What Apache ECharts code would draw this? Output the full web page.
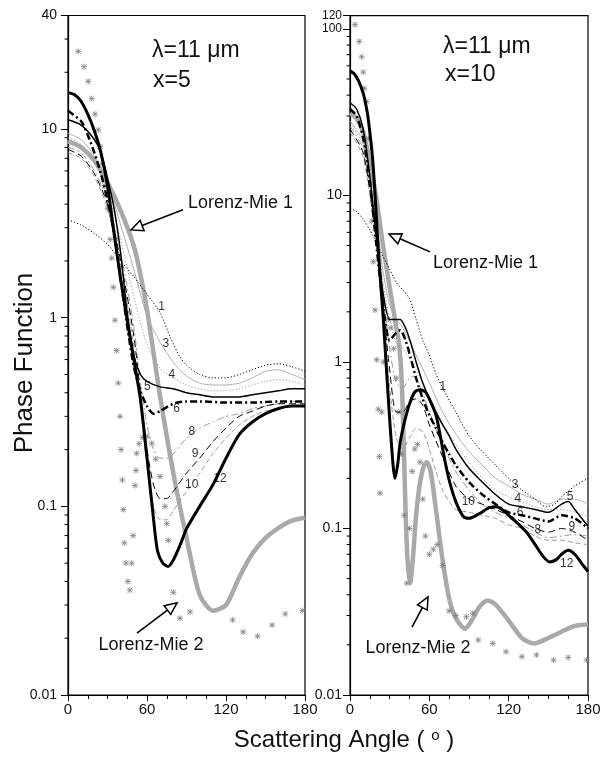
<!DOCTYPE html>
<html><head><meta charset="utf-8">
<script src="https://cdn.jsdelivr.net/npm/echarts@6.0.0/dist/echarts.min.js"></script>
<style>html,body{margin:0;padding:0;background:#fff}#c{width:612px;height:760px}</style>
</head><body><div id="c"></div><script>
const FONT = '"Liberation Sans", Arial, Helvetica, sans-serif';

// ---- axes ----
const xTickLabels = [0, 60, 120, 180];
const leftYMax = 40;
const rightYMax = 120;
const yMin = 0.01;

// ---- LEFT PANEL (x=5): [angle, phase function] ----
const L_c1 = [[0,3.3],[10,3.1],[20,2.8],[30,2.45],[40,2.0],[50,1.65],[60,1.33],[70,1.06],[78,0.78],[85,0.62],[90,0.56],[100,0.5],[110,0.48],[120,0.48],[130,0.5],[140,0.53],[150,0.56],[160,0.57],[170,0.55],[180,0.52]];
const L_c3 = [[0,9.5],[10,8.8],[20,7.2],[30,5.2],[40,3.1],[50,1.8],[60,1.02],[70,0.74],[80,0.58],[90,0.49],[100,0.45],[110,0.44],[120,0.44],[130,0.45],[140,0.48],[150,0.52],[160,0.53],[170,0.5],[180,0.47]];
const L_c4 = [[0,9.0],[10,8.3],[20,6.7],[30,4.7],[40,2.6],[50,1.3],[60,0.72],[70,0.54],[80,0.48],[90,0.44],[100,0.42],[110,0.41],[120,0.41],[130,0.42],[140,0.44],[150,0.46],[160,0.47],[170,0.46],[180,0.44]];
const L_c5 = [[0,11.2],[10,10.5],[20,8.8],[25,7.5],[30,5.5],[35,3.8],[40,2.2],[45,1.05],[50,0.63],[55,0.5],[60,0.46],[70,0.43],[80,0.42],[90,0.4],[100,0.39],[110,0.38],[120,0.38],[130,0.38],[140,0.39],[150,0.4],[160,0.41],[170,0.42],[180,0.42]];
const L_c6 = [[0,12.5],[10,11],[15,9.3],[20,7.5],[25,5.8],[30,4.2],[35,2.8],[40,1.6],[45,0.9],[50,0.55],[55,0.41],[60,0.34],[65,0.31],[70,0.32],[80,0.35],[90,0.36],[100,0.36],[120,0.355],[140,0.355],[160,0.36],[180,0.36]];
const L_c8 = [[0,8.0],[10,7.5],[20,6],[30,4.2],[40,2.2],[50,0.9],[55,0.45],[60,0.27],[65,0.2],[70,0.18],[75,0.18],[80,0.19],[90,0.23],[100,0.26],[110,0.28],[120,0.3],[130,0.31],[140,0.33],[150,0.34],[160,0.35],[170,0.36],[180,0.36]];
const L_c9 = [[0,7.8],[10,7.2],[20,5.8],[30,4],[40,2],[50,0.8],[55,0.4],[60,0.2],[65,0.13],[70,0.11],[75,0.11],[80,0.12],[90,0.15],[100,0.18],[110,0.22],[120,0.26],[130,0.3],[140,0.32],[150,0.34],[160,0.35],[170,0.35],[180,0.35]];
const L_c10 = [[0,7.5],[10,7],[20,5.6],[30,3.8],[40,1.9],[50,0.7],[55,0.33],[60,0.17],[65,0.1],[70,0.085],[75,0.085],[80,0.095],[90,0.12],[100,0.15],[110,0.19],[120,0.23],[130,0.27],[140,0.3],[150,0.32],[160,0.33],[170,0.34],[180,0.34]];
const L_c12 = [[0,15.6],[5,15.2],[10,14],[15,12],[20,9.8],[25,7.5],[30,5],[35,2.8],[40,1.6],[45,0.97],[50,0.6],[55,0.37],[60,0.18],[65,0.085],[68,0.058],[72,0.05],[76,0.048],[80,0.052],[85,0.062],[90,0.076],[100,0.1],[110,0.13],[120,0.18],[130,0.24],[140,0.28],[150,0.31],[160,0.33],[170,0.34],[180,0.34]];
const L_mie1 = [[0,8.6],[10,8.0],[20,6.8],[30,5.2],[40,3.7],[50,2.4],[55,1.7],[60,1.1],[65,0.65],[70,0.38],[80,0.15],[90,0.068],[100,0.034],[110,0.028],[120,0.03],[130,0.042],[140,0.056],[150,0.068],[160,0.077],[170,0.084],[180,0.087]];
const L_mie2 = [[7.8,25.8],[12.2,21.4],[15.4,17.9],[18,14.5],[20.5,12],[23,9.9],[24.3,8.1],[26,6.5],[28,5],[30,3.8],[32,2.6],[33.2,2.07],[34.4,1.45],[35.7,0.97],[37,0.67],[38.2,0.45],[39.5,0.3],[40.3,0.2],[41.3,0.138],[42,0.096],[42.8,0.064],[44,0.05],[45.5,0.04],[47,0.036],[48.3,0.05],[49.5,0.07],[50.9,0.129],[51.6,0.155],[52.2,0.191],[54,0.215],[56.7,0.232],[60,0.235],[63.6,0.216],[66.6,0.178],[69.9,0.144],[73.7,0.1],[75,0.081],[76.2,0.066],[80,0.035],[85,0.0255],[92.7,0.0276],[125,0.025],[133,0.0216],[144,0.0205],[155,0.0235],[165,0.0269],[178,0.028]];

// ---- RIGHT PANEL (x=10) ----
const R_c1 = [[0,8.3],[5,8],[10,7.2],[15,6.2],[20,5.2],[25,4.3],[30,3.6],[35,3.0],[40,2.7],[45,2.4],[50,1.8],[55,1.35],[60,1.1],[65,0.85],[70,0.7],[80,0.5],[90,0.36],[100,0.29],[110,0.24],[120,0.2],[130,0.17],[140,0.15],[148,0.135],[155,0.14],[160,0.155],[170,0.18],[180,0.2]];
const R_c3 = [[0,28],[10,21],[20,7],[25,3.5],[30,2.2],[35,1.8],[40,1.6],[50,1.1],[60,0.75],[70,0.5],[80,0.37],[90,0.29],[100,0.24],[110,0.2],[120,0.18],[130,0.16],[140,0.15],[150,0.14],[160,0.15],[170,0.15],[180,0.14]];
const R_c4 = [[0,27],[10,20],[20,6.5],[25,3],[30,1.8],[35,1.3],[40,1.2],[45,1.05],[50,0.9],[60,0.62],[70,0.43],[80,0.32],[90,0.25],[100,0.2],[110,0.17],[120,0.155],[130,0.145],[140,0.135],[150,0.13],[160,0.13],[170,0.125],[180,0.118]];
const R_c5 = [[0,36],[5,33],[10,25],[15,13],[20,5.5],[25,2.6],[30,1.8],[35,1.8],[38,1.8],[42,1.6],[46,1.3],[50,1.0],[55,0.75],[60,0.6],[65,0.5],[70,0.42],[75,0.36],[80,0.3],[90,0.23],[100,0.19],[110,0.16],[120,0.14],[130,0.135],[140,0.13],[150,0.125],[160,0.14],[165,0.145],[170,0.13],[180,0.103]];
const R_c6 = [[0,33],[5,30],[10,22],[15,12],[20,5],[25,2.2],[30,1.35],[35,1.5],[38,1.55],[42,1.35],[46,1.05],[50,0.8],[55,0.6],[60,0.48],[65,0.4],[70,0.33],[75,0.28],[80,0.24],[90,0.19],[100,0.16],[110,0.14],[120,0.125],[130,0.12],[140,0.115],[150,0.11],[160,0.12],[170,0.115],[180,0.1]];
const R_c8 = [[0,26],[10,19],[20,6],[25,2.5],[30,1.2],[35,0.75],[40,0.7],[45,0.8],[48,0.82],[52,0.75],[60,0.5],[70,0.32],[80,0.22],[90,0.17],[100,0.14],[110,0.125],[120,0.115],[130,0.105],[140,0.095],[150,0.088],[160,0.09],[170,0.092],[180,0.09]];
const R_c9 = [[0,25],[10,18],[20,5.5],[25,2.2],[30,0.9],[35,0.5],[40,0.5],[45,0.58],[50,0.6],[55,0.55],[60,0.42],[70,0.27],[80,0.18],[90,0.15],[100,0.14],[110,0.13],[120,0.12],[130,0.11],[140,0.1],[150,0.095],[160,0.1],[170,0.095],[180,0.085]];
const R_c10 = [[0,24],[10,17],[20,5],[25,2],[30,0.7],[35,0.35],[40,0.3],[45,0.35],[50,0.4],[55,0.38],[60,0.3],[65,0.22],[70,0.17],[75,0.145],[80,0.13],[90,0.125],[100,0.12],[110,0.115],[120,0.105],[130,0.1],[140,0.09],[150,0.085],[160,0.085],[170,0.082],[180,0.08]];
const R_c12 = [[0,56],[3,54],[6.3,49],[10,41],[12.6,33],[14,28],[17,17],[19,10],[21.4,4.7],[25,1.9],[28,0.8],[31,0.35],[34,0.2],[36,0.24],[38,0.33],[41.6,0.45],[45,0.56],[49,0.66],[53,0.68],[57,0.66],[60,0.6],[65,0.48],[68,0.37],[72,0.25],[75.6,0.187],[80,0.145],[85.7,0.118],[90,0.115],[98,0.123],[105,0.133],[111,0.135],[116,0.128],[121,0.118],[128,0.105],[134,0.094],[140,0.08],[146,0.068],[151,0.063],[156,0.065],[160,0.07],[165,0.074],[170,0.07],[175,0.062],[180,0.055]];
const R_mie1 = [[0,31],[5,29],[10,24],[15,16],[20,9.5],[25,5],[30,2.8],[34,1.8],[37,1.3],[39,0.8],[40.5,0.35],[42,0.13],[43.5,0.065],[45.5,0.047],[47.5,0.065],[50,0.12],[53,0.19],[56,0.24],[58,0.25],[61,0.22],[65,0.13],[70,0.065],[75,0.038],[80,0.029],[87,0.025],[92,0.028],[98,0.034],[104,0.037],[110,0.035],[120,0.028],[130,0.022],[139,0.0204],[150,0.022],[160,0.024],[170,0.026],[180,0.0265]];
const R_mie2 = [[3.8,106],[7,84],[8.8,68],[10,55],[10.8,44],[12.6,36.6],[14,22],[15.5,12],[16.5,7],[17.6,4.0],[18.9,2.05],[20.2,1.03],[21.4,0.52],[22.2,0.27],[22.7,0.163],[24,0.5],[25.2,1.0],[27,1.6],[29,1.8],[31,1.6],[33,1.2],[35,0.8],[37,0.5],[39,0.28],[41,0.12],[43,0.047],[45,0.1],[47,0.22],[49,0.3],[51,0.32],[53,0.25],[55,0.15],[57,0.09],[60,0.07],[63,0.075],[66,0.08],[70,0.06],[75,0.032],[80,0.03],[88,0.0295],[93,0.031],[97,0.0214],[108,0.0204],[118,0.0182],[130,0.017],[141,0.0174],[154,0.0162],[165,0.0168],[179,0.0162]];

// ---- curve number labels [angle, value, text] ----
const L_labels = [[71,1.15,'1'],[74.4,0.73,'3'],[78.8,0.5,'4'],[60.2,0.43,'5'],[82.5,0.33,'6'],[94,0.249,'8'],[96.5,0.19,'9'],[94,0.13,'10'],[115.4,0.141,'12']];
const R_labels = [[70.3,0.71,'1'],[124.8,0.182,'3'],[127,0.152,'4'],[128.6,0.124,'6'],[142,0.099,'8'],[167.7,0.103,'9'],[166.4,0.155,'5'],[163.9,0.0618,'12'],[89.5,0.145,'10']];

// ---- annotations: [tail, tip] in data coords, text anchor ----
const annotations = [
  {grid:0, text:'Lorenz-Mie 1', at:[91.2,4.06], align:'left', tail:[87.3,3.73], tip:[47.8,2.92]},
  {grid:0, text:'Lorenz-Mie 2', at:[63,0.0184], align:'center', tail:[52.4,0.0213], tip:[82.8,0.0308]},
  {grid:1, text:'Lorenz-Mie 1', at:[62.8,3.94], align:'left', tail:[60.5,4.58], tip:[29.5,5.87]},
  {grid:1, text:'Lorenz-Mie 2', at:[51.4,0.0191], align:'center', tail:[46.9,0.0256], tip:[59,0.0388]}
];

const fmt = v => String(+(+v).toPrecision(3));

function xAxis(gi) {
  return {
    type:'value', gridIndex:gi, min:0, max:180, interval:60,
    axisLine:{show:true, onZero:false, lineStyle:{color:'#000', width:1.2}},
    axisTick:{show:true, inside:false, length:6, lineStyle:{color:'#000', width:1}},
    minorTick:{show:true, splitNumber:4, length:4, lineStyle:{color:'#000', width:1}},
    splitLine:{show:false},
    axisLabel:{show:true, margin:7, fontSize:15, color:'#111', fontFamily:FONT,
      formatter: v => xTickLabels.includes(v) ? String(v) : ''}
  };
}
function yAxis(gi, max, margin) {
  return {
    type:'log', logBase:10, gridIndex:gi, min:yMin, max:max,
    axisLine:{show:true, onZero:false, lineStyle:{color:'#000', width:1.2}},
    axisTick:{show:true, inside:false, length:7, lineStyle:{color:'#000', width:1}},
    splitLine:{show:false},
    axisLabel:{show:true, margin:margin, fontSize:14, color:'#111', fontFamily:FONT,
      formatter: v => (v >= 100 ? '{s|' + fmt(v) + '}' : fmt(v)),
      rich:{s:{fontSize:12, lineHeight:11, fontFamily:FONT, color:'#111'}}}
  };
}

function minorTickValues(max) {
  const out = [];
  for (let e = -2; e <= 2; e++) for (let m = 2; m <= 9; m++) {
    const v = m * Math.pow(10, e);
    if (v < max) out.push([0, v]);
  }
  return out;
}

function line(gi, data, style, z) {
  return {type:'line', xAxisIndex:gi, yAxisIndex:gi, data, symbol:'none', smooth:0.25,
    lineStyle:Object.assign({color:'#000', width:1}, style), silent:true, z:z||3, animation:false};
}
function labelSeries(gi, arr) {
  return {type:'scatter', xAxisIndex:gi, yAxisIndex:gi, symbolSize:0, silent:true, z:10, animation:false,
    data: arr.map(a => ({value:[a[0], a[1]], label:{show:true, formatter:a[2]}})),
    label:{show:true, position:'inside', fontSize:12, fontFamily:FONT, color:'#000'}};
}
function starSeries(gi, data) {
  return {type:'scatter', xAxisIndex:gi, yAxisIndex:gi, data, silent:true, z:2, animation:false,
    symbol:'path://M0,0L10,10M10,0L0,10M5,-1L5,11M-1,5L11,5', symbolSize:6,
    itemStyle:{color:'rgba(0,0,0,0)', borderColor:'#808080', borderWidth:1}};
}
function minorTicks(gi, max) {
  return {type:'custom', xAxisIndex:gi, yAxisIndex:gi, data:minorTickValues(max), silent:true, clip:false, z:5, animation:false,
    renderItem:(params, api) => {
      const p = api.coord([0, api.value(1)]);
      return {type:'line', shape:{x1:p[0]-3.5, y1:p[1], x2:p[0], y2:p[1]}, style:{stroke:'#000', lineWidth:1}};
    }};
}

const DOT = [1.2, 2];
const DASHDOT = [7, 3, 2, 3];
const GRAY = '#9a9a9a';
const LGRAY = '#b0b0b0';

function panelSeries(gi, d) {
  return [
    line(gi, d.mie1, {color:'#a9a9a9', width:4.5}, 1),
    starSeries(gi, d.mie2),
    line(gi, d.c1, {color:'#000', width:1, type:DOT}, 4),
    line(gi, d.c3, {color:LGRAY, width:1}, 3),
    line(gi, d.c4, {color:GRAY, width:1, type:DOT}, 3),
    line(gi, d.c8, {color:GRAY, width:1, type:DASHDOT}, 3),
    line(gi, d.c10, {color:GRAY, width:1, type:[5,3]}, 3),
    line(gi, d.c9, {color:'#000', width:1, type:[7,4]}, 4),
    line(gi, d.c5, {color:'#000', width:1.5}, 5),
    line(gi, d.c6, {color:'#000', width:2.5, type:DASHDOT}, 5),
    line(gi, d.c12, {color:'#000', width:3}, 6)
  ];
}

const chart = echarts.init(document.getElementById('c'), null, {renderer:'canvas'});
const option = {
  animation:false,
  backgroundColor:'#fff',
  grid:[
    {left:68, top:15.5, width:237, height:679.5, show:true, borderColor:'#000', borderWidth:1.2, backgroundColor:'transparent'},
    {left:350, top:15.7, width:238, height:679.3, show:true, borderColor:'#000', borderWidth:1.2, backgroundColor:'transparent'}
  ],
  xAxis:[xAxis(0), xAxis(1)],
  yAxis:[yAxis(0, leftYMax, 11), yAxis(1, rightYMax, 8)],
  series:[].concat(
    panelSeries(0, {mie1:L_mie1, mie2:L_mie2, c1:L_c1, c3:L_c3, c4:L_c4, c5:L_c5, c6:L_c6, c8:L_c8, c9:L_c9, c10:L_c10, c12:L_c12}),
    panelSeries(1, {mie1:R_mie1, mie2:R_mie2, c1:R_c1, c3:R_c3, c4:R_c4, c5:R_c5, c6:R_c6, c8:R_c8, c9:R_c9, c10:R_c10, c12:R_c12}),
    [labelSeries(0, L_labels), labelSeries(1, R_labels), minorTicks(0, leftYMax), minorTicks(1, rightYMax)]
  )
};
chart.setOption(option);

// Text & arrows (positions from data coords via the chart's scales)
const g = [];
const txt = (x, y, text, size, extra) => Object.assign({type:'text', x, y, z:100,
  style:Object.assign({text, fontSize:size, fontFamily:FONT, fill:'#111', align:'left', verticalAlign:'middle'}, extra||{})});
g.push(txt(152, 51, 'λ=11 μm', 23));
g.push(txt(153, 81, 'x=5', 23));
g.push(txt(443, 46.5, 'λ=11 μm', 23));
g.push(txt(445, 74.5, 'x=10', 23));
g.push(Object.assign(txt(25, 363, 'Phase Function', 26, {align:'center'}), {rotation:Math.PI/2}));
g.push(txt(344, 740, 'Scattering Angle ( {s|o} )', 24, {align:'center',
  rich:{s:{fontSize:15, verticalAlign:'top', fontFamily:FONT, fill:'#111'}}}));

annotations.forEach(a => {
  const P = v => chart.convertToPixel({gridIndex:a.grid}, v);
  const pt = P(a.at), t0 = P(a.tail), t1 = P(a.tip);
  g.push(txt(pt[0], pt[1], a.text, 18, {align:a.align}));
  const dx = t1[0]-t0[0], dy = t1[1]-t0[1], L = Math.hypot(dx, dy);
  const ux = dx/L, uy = dy/L, hl = 12, hw = 5.5;
  const bx = t1[0]-ux*hl, by = t1[1]-uy*hl;
  g.push({type:'line', z:100, shape:{x1:t0[0], y1:t0[1], x2:bx, y2:by}, style:{stroke:'#000', lineWidth:1.6}});
  g.push({type:'polygon', z:101, shape:{points:[[t1[0],t1[1]],[bx-uy*hw, by+ux*hw],[bx+uy*hw, by-ux*hw]]},
    style:{fill:'#fff', stroke:'#000', lineWidth:1.5}});
});
chart.setOption({graphic:g});
</script></body></html>
